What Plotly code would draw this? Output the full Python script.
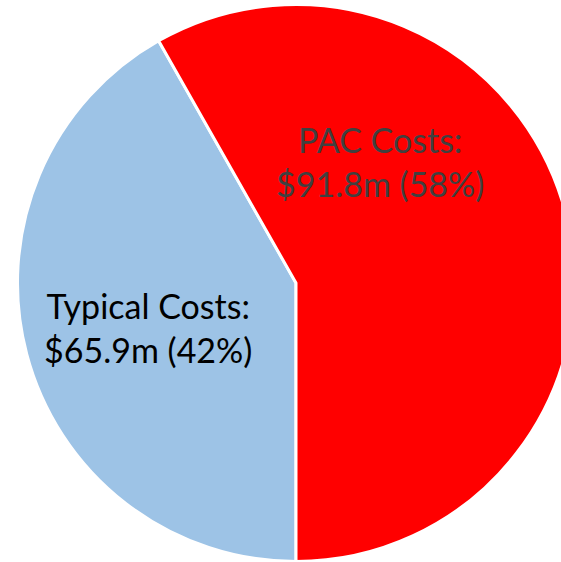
import plotly.graph_objects as go

# Data
labels = ["Typical Costs", "PAC Costs"]
values = [65.9, 91.8]  # $m
colors = ["#9DC3E6", "#FF0000"]
text_colors = ["#000000", "#404040"]

total = sum(values)
pcts = [round(v / total * 100) for v in values]
texts = [f"{l}:<br>${v}m ({p}%)" for l, v, p in zip(labels, values, pcts)]

W, H = 592, 566
cx, cy, r = 296, 283, 278.5

fig = go.Figure(go.Pie(
    labels=labels,
    values=values,
    sort=False,
    direction="clockwise",
    rotation=180,
    marker=dict(colors=colors, line=dict(color="white", width=3)),
    textinfo="none",
    hoverinfo="none",
    showlegend=False,
    domain=dict(x=[0, 1], y=[(cy - r) / H, (cy + r) / H]),
))

# label positions (pixels) for annotations
label_pos = [(148, 327), (380, 161)]
for t, c, (px, py) in zip(texts, text_colors, label_pos):
    fig.add_annotation(
        x=px / W, y=1 - py / H, xref="paper", yref="paper",
        text=t, showarrow=False, xanchor="center", yanchor="middle",
        font=dict(family="Lato", size=34, color=c), align="center",
    )

fig.update_layout(
    width=W, height=H,
    margin=dict(l=0, r=0, t=0, b=0),
    paper_bgcolor="white", plot_bgcolor="white",
)

fig.write_html(
    "out.html",
    config={"displayModeBar": False},
    post_script="document.body.style.margin='0';document.body.style.overflow='hidden';document.documentElement.style.overflow='hidden';",
)
